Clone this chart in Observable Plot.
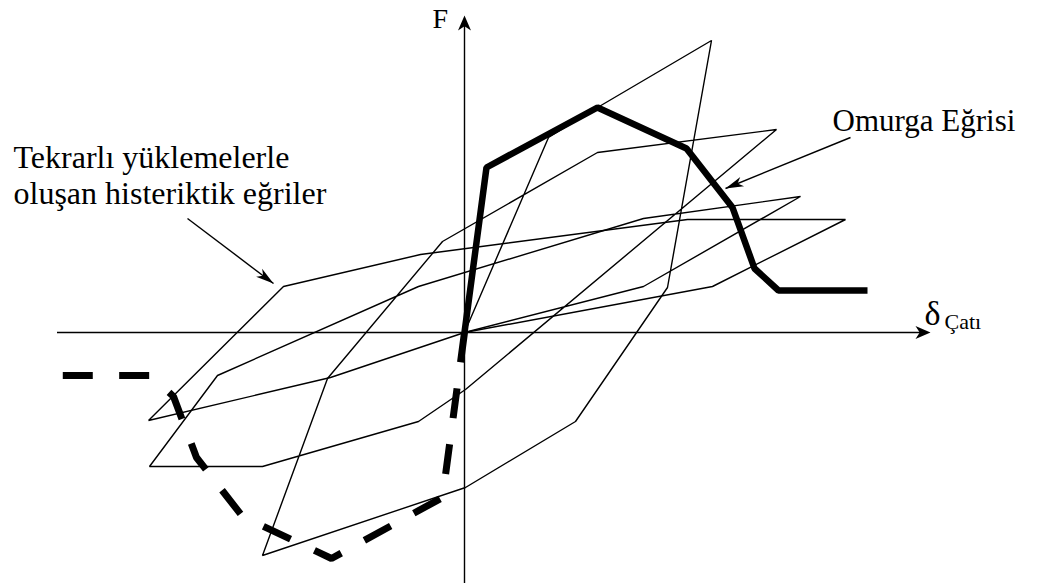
<!DOCTYPE html>
<html>
<head>
<meta charset="utf-8">
<script src="https://cdn.jsdelivr.net/npm/d3@7"></script>
<script src="https://cdn.jsdelivr.net/npm/@observablehq/plot@0.6"></script>
<style>
  body { margin: 0; background: #fff; }
  #chart svg { display: block; }
</style>
</head>
<body>
<div id="chart"></div>
<script>
// Backbone (envelope) curve — positive branch (solid)
const backboneDelta = [0, 2.2, 13.3, 22.2, 26.8, 29.0, 31.4, 40.3];
const backboneForce = [0, 16.5, 22.5, 18.4, 12.5, 6.4, 4.2, 4.2];

// Backbone curve — negative branch (dashed)
const backboneNegDelta = [0, -2.2, -13.3, -22.2, -26.8, -29.1, -31.4, -40.2];
const backboneNegForce = [0, -16.5, -22.6, -18.4, -12.5, -6.4, -4.3, -4.3];

// Hysteresis path from repeated loading cycles
const cyclesDelta = [0, 8.4, 13.3, 24.7, 20.3, 11.1, 0.1, -20.2, -13.7, -2.2, 13.3, 31.2,
                     0.1, -4.6, -20.2, -31.5, -24.7, -4.6, 17.9, 33.6, 17.9, 0];
const cyclesForce = [0, 19.5, 22.5, 29.2, 4.5, -8.9, -15.5, -22.3, -4.6, 9.1, 18.0, 20.3,
                     -5.7, -8.9, -13.4, -13.4, -4.3, 4.6, 11.4, 13.6, 4.6, 0];

// Last (most degraded) loop
const lastLoopDelta = [-31.6, -18.1, -4.4, 22.3, 38.1, 24.8, 0, -13.4, -31.6];
const lastLoopForce = [-8.8, 4.6, 7.8, 11.3, 11.3, 4.6, 0, -4.5, -8.8];

// Texts
const axisLabelF = "F";
const axisLabelDelta = "δ";
const axisLabelDeltaSub = "Çatı";
const noteHysteresis = ["Tekrarlı yüklemelerle", "oluşan histeriktik eğriler"];
const noteBackbone = "Omurga Eğrisi";

const rows = (xs, ys) => xs.map((x, i) => ({x, y: ys[i]}));

// Filled, notched arrowhead; tip at the dot position, rotated clockwise from "up".
function arrowHead(angleDeg, len, wid) {
  const a = angleDeg * Math.PI / 180, c = Math.cos(a), s = Math.sin(a);
  const pts = [[0, 0], [-wid / 2, len], [0, len * 0.72], [wid / 2, len]]
    .map(([x, y]) => [x * c - y * s, x * s + y * c]);
  return {
    draw(ctx) {
      ctx.moveTo(pts[0][0], pts[0][1]);
      for (let i = 1; i < pts.length; ++i) ctx.lineTo(pts[i][0], pts[i][1]);
      ctx.closePath();
    }
  };
}
const headingOf = (x1, y1, x2, y2) => Math.atan2(x2 - x1, y2 - y1) * 180 / Math.PI;

// Leader arrows for the two notes
const leaders = [
  {x1: -27.7, y1: 11.4, x2: -19.1, y2: 4.9},
  {x1: 38.6, y1: 19.5, x2: 26.1, y2: 14.4}
];

const font = "'Liberation Serif', 'Times New Roman', Times, serif";

const chart = Plot.plot({
  width: 1040,
  height: 587,
  margin: 0,
  style: {background: "#fff", fontFamily: font},
  x: {domain: [-46.4, 57.6], range: [0, 1040], axis: null},
  y: {domain: [-25.5, 33.2], range: [587, 0], axis: null},
  marks: [
    // coordinate axes
    Plot.ruleY([0], {x1: -40.7, x2: 46.0, stroke: "black", strokeWidth: 1.4}),
    Plot.ruleX([0], {y1: -25.1, y2: 31.0, stroke: "black", strokeWidth: 1.4}),
    Plot.dot([{x: 46.6, y: 0}], {x: "x", y: "y", r: 5, fill: "black", stroke: "none",
      symbol: arrowHead(90, 15, 13)}),
    Plot.dot([{x: 0, y: 31.7}], {x: "x", y: "y", r: 5, fill: "black", stroke: "none",
      symbol: arrowHead(0, 15, 13)}),

    // hysteresis loops
    Plot.line(rows(cyclesDelta, cyclesForce), {x: "x", y: "y", stroke: "black",
      strokeWidth: 1.4, strokeLinejoin: "miter", strokeLinecap: "butt"}),
    Plot.line(rows(lastLoopDelta, lastLoopForce), {x: "x", y: "y", stroke: "black",
      strokeWidth: 1.4, strokeLinejoin: "miter", strokeLinecap: "butt"}),

    // backbone curve
    Plot.line(rows(backboneDelta, backboneForce), {x: "x", y: "y", stroke: "black",
      strokeWidth: 6.5, strokeLinejoin: "miter", strokeLinecap: "butt"}),
    Plot.line(rows(backboneNegDelta, backboneNegForce), {x: "x", y: "y", stroke: "black",
      strokeWidth: 7, strokeDasharray: "30,26.4", strokeLinejoin: "miter", strokeLinecap: "butt"}),

    // leader arrows
    Plot.link(leaders, {x1: "x1", y1: "y1", x2: "x2", y2: "y2", stroke: "black", strokeWidth: 1.4}),
    ...leaders.map(d => Plot.dot([d], {x: "x2", y: "y2", r: 5, fill: "black", stroke: "none",
      symbol: arrowHead(headingOf(d.x1, d.y1, d.x2, d.y2), 18, 10)})),

    // labels
    Plot.text([axisLabelF], {x: -3.2, y: 30.5, text: d => d, textAnchor: "start",
      lineAnchor: "bottom", fontSize: 28, fill: "black"}),
    Plot.text([axisLabelDelta], {x: 46.0, y: 0.8, text: d => d, textAnchor: "start",
      lineAnchor: "bottom", fontSize: 34, fill: "black"}),
    Plot.text([axisLabelDeltaSub], {x: 48.0, y: 0.4, text: d => d, textAnchor: "start",
      lineAnchor: "bottom", fontSize: 22, fill: "black"}),
    Plot.text([noteHysteresis[0]], {x: -45.1, y: 16.5, text: d => d, textAnchor: "start",
      lineAnchor: "bottom", fontSize: 32, fill: "black"}),
    Plot.text([noteHysteresis[1]], {x: -45.1, y: 12.9, text: d => d, textAnchor: "start",
      lineAnchor: "bottom", fontSize: 32, fill: "black"}),
    Plot.text([noteBackbone], {x: 36.8, y: 20.2, text: d => d, textAnchor: "start",
      lineAnchor: "bottom", fontSize: 31, fill: "black"})
  ]
});

document.getElementById("chart").append(chart);
</script>
</body>
</html>
